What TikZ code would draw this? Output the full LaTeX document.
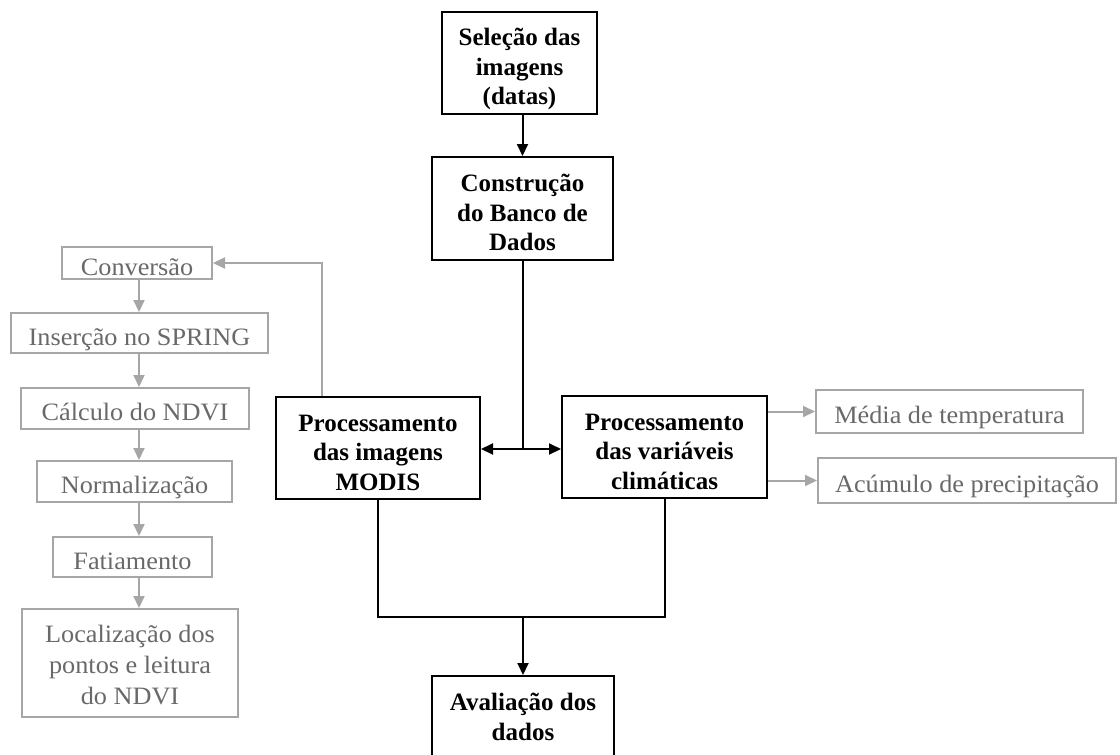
\documentclass[tikz,border=0pt]{standalone}
\usepackage{fontspec}
\setmainfont{Liberation Serif}
\newfontfamily\blkfont{Liberation Serif}
\newfontfamily\gryfont[FakeStretch=1.05]{Liberation Serif}
\usetikzlibrary{arrows.meta}
\definecolor{gline}{RGB}{166,166,166}
\definecolor{gtext}{RGB}{105,105,105}
\newcommand\hstrut[1]{\rule{0pt}{#1pt}}
\newcommand\dstrut[1]{\rule[-#1pt]{0pt}{#1pt}}
\newcommand\blkset{\blkfont\bfseries\fontsize{25}{29.5}\selectfont\lineskiplimit=-50pt\lineskip=0pt\relax}
\newcommand\blkwide{\blkfont\bfseries\fontsize{25}{30}\selectfont\lineskiplimit=-50pt\lineskip=0pt\relax}
\newcommand\gryset{\gryfont\fontsize{25}{31}\selectfont\lineskiplimit=-50pt\lineskip=0pt\relax}
\tikzset{
  bbox/.style={draw=black, line width=2pt, inner sep=0pt, align=center, font=\blkset},
  gbox/.style={draw=gline, line width=2pt, inner sep=0pt, align=center, text=gtext, font=\gryset},
  gone/.style={gbox, text height=24pt, text depth=0pt},
  bline/.style={line width=2pt, draw=black},
  barr/.style={bline, -{Triangle[length=12pt,width=11pt]}},
  garr/.style={line width=2pt, draw=gline, -{Triangle[length=12pt,width=11pt,fill=gline]}},
}
\begin{document}
\begin{tikzpicture}[x=1pt,y=-1pt]
\useasboundingbox (0,0) rectangle (1120,755);
\fill[white] (0,0) rectangle (1120,755);
\clip (0,0) rectangle (1120,755);

% black boxes
\node[bbox, minimum width=155pt, minimum height=102pt] (sel) at (519.5,62.5)
  {\hstrut{31}Seleção das\\imagens\\(datas)};
\node[bbox, minimum width=181pt, minimum height=103pt] (cons) at (522.5,208.5)
  {\hstrut{26}Construção\\do Banco de\\Dados};
\node[bbox, minimum width=204pt, minimum height=102pt] (modis) at (378,448)
  {\hstrut{26}Processamento\\das imagens\\MODIS};
\node[bbox, minimum width=205pt, minimum height=102pt] (clim) at (664.5,447)
  {\hstrut{26}Processamento\\das variáveis\\climáticas};
\node[bbox, minimum width=182pt, minimum height=82pt, font=\blkwide] (aval) at (523,717)
  {\hstrut{18}Avaliação dos\\dados\dstrut{2}};

% grey boxes
\node[gone, minimum width=150pt, minimum height=32pt] (conv) at (137,263) {Conversão};
\node[gone, minimum width=257pt, minimum height=40pt] (ins) at (139.5,333) {Inserção no SPRING};
\node[gone, minimum width=228pt, minimum height=41pt] (calc) at (135,408.5) {Cálculo do NDVI};
\node[gone, minimum width=195pt, minimum height=41pt] (norm) at (134.5,481.5) {Normalização};
\node[gone, minimum width=159pt, minimum height=40pt] (fat) at (132.5,557) {Fatiamento};
\node[gbox, minimum width=216pt, minimum height=108pt] (loc) at (130,663)
  {\hstrut{21}Localização dos\\pontos e leitura\\do NDVI};
\node[gone, minimum width=267pt, minimum height=43pt] (med) at (949.5,411.5) {Média de temperatura};
\node[gone, minimum width=298pt, minimum height=45pt] (acu) at (967,480.5) {Acúmulo de precipitação};

% helper coordinates
\coordinate (gx) at (139,0);
\coordinate (mrow) at (0,617);
\coordinate (jrow) at (0,449);
\coordinate (j) at (cons.south |- jrow);
\coordinate (m) at (aval.north |- mrow);

% black connectors
\draw[barr] (cons.north |- sel.south) -- (cons.north);
\draw[bline] (cons.south) -- (j);
\draw[barr] (j) -- (modis.east |- j);
\draw[barr] (j) -- (clim.west |- j);
\draw[bline] (modis.south) |- (m) -| (clim.south);
\draw[barr] (m) -- (aval.north);

% grey connectors
\draw[garr] ([xshift=-56pt]modis.north) |- (conv.east);
\draw[garr] (gx |- conv.south) -- (gx |- ins.north);
\draw[garr] (gx |- ins.south) -- (gx |- calc.north);
\draw[garr] (gx |- calc.south) -- (gx |- norm.north);
\draw[garr] (gx |- norm.south) -- (gx |- fat.north);
\draw[garr] (gx |- fat.south) -- (gx |- loc.north);
\draw[garr] (clim.east |- med.west) -- (med.west);
\draw[garr] (clim.east |- acu.west) -- (acu.west);
\end{tikzpicture}
\end{document}
